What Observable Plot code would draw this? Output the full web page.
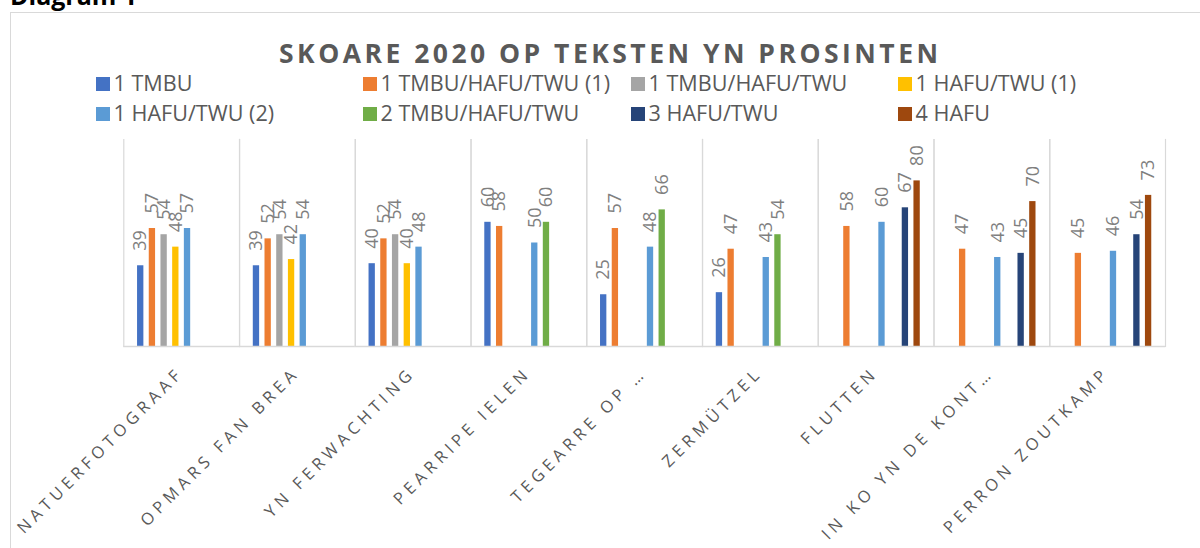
<!DOCTYPE html>
<html>
<head>
<meta charset="utf-8">
<script src="https://cdn.jsdelivr.net/npm/d3@7"></script>
<script src="https://cdn.jsdelivr.net/npm/@observablehq/plot@0.6"></script>
<style>
html, body { margin: 0; padding: 0; overflow: hidden; background: #fff; }
#wrap { position: relative; width: 1200px; height: 548px; overflow: hidden; font-family: "Open Sans", sans-serif; }
#border { position: absolute; left: 10px; top: 12px; width: 1300px; height: 700px; border: 1.5px solid #d9d9d9; box-sizing: border-box; }
#diag { position: absolute; left: 10px; top: -17px; font-size: 25px; line-height: 25px; font-weight: bold; color: #000; white-space: nowrap; }
#title { position: absolute; left: 279px; top: 39.5px; font-size: 26.5px; line-height: 26.5px; font-weight: bold; color: #595959; white-space: nowrap; }
.sw { position: absolute; width: 14px; height: 14px; }
.lt { position: absolute; font-size: 21.6px; line-height: 21.6px; color: #595959; white-space: nowrap; }
#chart { position: absolute; left: 0; top: 0; }
</style>
</head>
<body>
<div id="wrap">
  <div id="border"></div>
  <div id="diag">Diagram 1</div>
  <div id="title">SKOARE 2020 OP TEKSTEN YN PROSINTEN</div>
  <div id="legend"></div>
  <div id="chart"></div>
</div>
<script>
// ---- data ----
const categories = ["NATUERFOTOGRAAF", "OPMARS FAN BREA", "YN FERWACHTING", "PEARRIPE IELEN", "TEGEARRE OP …", "ZERMÜTZEL", "FLUTTEN", "IN KO YN DE KONT…", "PERRON ZOUTKAMP"];
const seriesNames = ["1 TMBU", "1 TMBU/HAFU/TWU (1)", "1 TMBU/HAFU/TWU", "1 HAFU/TWU (1)", "1 HAFU/TWU (2)", "2 TMBU/HAFU/TWU", "3 HAFU/TWU", "4 HAFU"];
const seriesColors = ["#4472C4", "#ED7D31", "#A5A5A5", "#FFC000", "#5B9BD5", "#70AD47", "#264478", "#9E480E"];
const tmbu1        = [39, 39, 40, 60, 25, 26, null, null, null];
const tmbuHafuTwu1 = [57, 52, 52, 58, 57, 47, 58, 47, 45];
const tmbuHafuTwu  = [54, 54, 54, null, null, null, null, null, null];
const hafuTwu1     = [48, 42, 40, null, null, null, null, null, null];
const hafuTwu2     = [57, 54, 48, 50, 48, 43, 60, 43, 46];
const tmbuHafuTwu2 = [null, null, null, 60, 66, 54, null, null, null];
const hafuTwu3     = [null, null, null, null, null, null, 67, 45, 54];
const hafu4        = [null, null, null, null, null, null, 80, 70, 73];
const seriesValues = [tmbu1, tmbuHafuTwu1, tmbuHafuTwu, hafuTwu1, hafuTwu2, tmbuHafuTwu2, hafuTwu3, hafu4];
const titleText = "SKOARE 2020 OP TEKSTEN YN PROSINTEN";

const rows = [];
seriesValues.forEach((vals, si) => vals.forEach((v, ci) => {
  if (v != null) rows.push({cat: categories[ci], series: seriesNames[si], value: v});
}));

// ---- title ----
const titleEl = document.getElementById("title");
titleEl.textContent = titleText;
titleEl.style.letterSpacing = "0px";
const w0 = titleEl.getBoundingClientRect().width;
titleEl.style.letterSpacing = ((659 - w0) / (titleText.length - 1)) + "px";

// ---- legend ----
const legend = document.getElementById("legend");
const colX = [96, 363, 631, 898];
const rowY = [77, 107];
seriesNames.forEach((name, i) => {
  const c = i % 4, r = Math.floor(i / 4);
  const sw = document.createElement("div");
  sw.className = "sw";
  sw.style.left = colX[c] + "px";
  sw.style.top = rowY[r] + "px";
  sw.style.background = seriesColors[i];
  legend.appendChild(sw);
  const t = document.createElement("div");
  t.className = "lt";
  t.textContent = name;
  t.style.left = (colX[c] + 17.5) + "px";
  t.style.top = (rowY[r] + 14 - 19.2) + "px";
  legend.appendChild(t);
});

// ---- chart ----
const chart = Plot.plot({
  width: 1200,
  height: 548,
  marginTop: 139,
  marginBottom: 202,
  marginLeft: 123.3,
  marginRight: 35,
  style: {background: "transparent", fontFamily: "'Open Sans', sans-serif", overflow: "visible"},
  fx: {domain: categories, padding: 0, round: false, axis: null},
  x: {domain: seriesNames, paddingInner: 0.46, paddingOuter: 1.175, round: false, axis: null},
  y: {domain: [0, 100], axis: null},
  color: {domain: seriesNames, range: seriesColors},
  marks: [
    Plot.frame({anchor: "left", stroke: "#d9d9d9", strokeWidth: 1.2}),
    Plot.frame({anchor: "right", stroke: "#d9d9d9", strokeWidth: 1.2}),
    Plot.barY(rows, {fx: "cat", x: "series", y: "value", fill: "series"}),
    Plot.ruleY([0], {stroke: "#d9d9d9", strokeWidth: 1.5}),
    Plot.text(rows, {fx: "cat", x: "series", y: "value", text: d => String(d.value), rotate: -90, textAnchor: "start", dy: -15, fill: "#7f7f7f", fontSize: 18}),
    Plot.text(categories, {fx: d => d, text: d => d, frameAnchor: "bottom", rotate: -45, textAnchor: "end", lineAnchor: "middle", dx: -4, dy: 27, fill: "#595959", fontSize: 16.5})
  ]
});
document.getElementById("chart").appendChild(chart);
// spread the category labels (Excel shows them letter-spaced)
d3.select(chart).selectAll("text")
  .filter(function() { return categories.includes(this.textContent); })
  .each(function() {
    const n = this.textContent.length;
    const L = this.getComputedTextLength();
    this.setAttribute("textLength", L + (n - 1) * 4.6);
    this.setAttribute("lengthAdjust", "spacing");
  });
</script>
</body>
</html>
